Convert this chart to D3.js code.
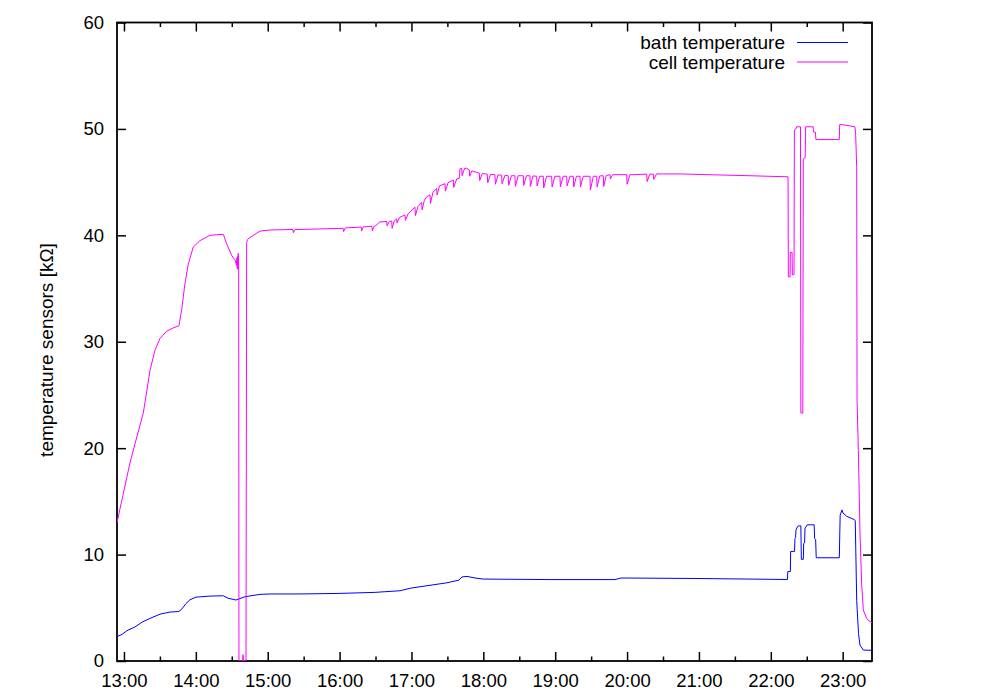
<!DOCTYPE html>
<html>
<head>
<meta charset="utf-8">
<script src="https://cdn.jsdelivr.net/npm/d3@7"></script>
<style>
  body { margin: 0; background: #fff; }
  svg { display: block; font-family: "Liberation Sans", Arial, Helvetica, sans-serif; }
</style>
</head>
<body>
<svg id="chart" width="1000" height="700"></svg>
<script>
// ---- data (time in decimal hours, value in kΩ) ----
const seriesNames = ["bath temperature", "cell temperature"];
const seriesColors = ["#0000ff", "#ff00ff"];
const xDomain = [12.903, 23.408];
const yDomain = [0, 60];
const yTicks = [0, 10, 20, 30, 40, 50, 60];
const hourTicks = [13, 14, 15, 16, 17, 18, 19, 20, 21, 22, 23];
const halfHourTicks = [13.5, 14.5, 15.5, 16.5, 17.5, 18.5, 19.5, 20.5, 21.5, 22.5];
const yLabel = "temperature sensors [kΩ]";

const bathTemp = [
  [12.903, 2.28], [12.972, 2.5], [13.042, 2.85], [13.153, 3.2], [13.264, 3.7],
  [13.362, 4.0], [13.501, 4.4], [13.640, 4.6], [13.765, 4.65], [13.807, 4.9],
  [13.863, 5.4], [13.918, 5.75], [14.002, 6.0], [14.197, 6.1], [14.382, 6.13],
  [14.447, 5.9], [14.558, 5.73], [14.684, 6.04], [14.892, 6.26], [15.031, 6.3],
  [15.449, 6.3], [15.99, 6.35], [16.492, 6.45], [16.84, 6.6], [16.993, 6.85],
  [17.244, 7.1], [17.494, 7.35], [17.661, 7.6], [17.703, 7.9], [17.773, 7.95],
  [17.884, 7.8], [17.995, 7.7], [18.927, 7.65], [19.832, 7.65], [19.915, 7.8],
  [21.014, 7.75], [22.232, 7.66], [22.236, 8.4], [22.272, 8.4], [22.276, 10.3],
  [22.33, 10.3], [22.336, 11.5], [22.345, 11.6], [22.35, 12.3], [22.37, 12.6],
  [22.382, 12.7], [22.418, 12.7], [22.425, 9.55], [22.452, 9.55], [22.458, 11.05],
  [22.47, 11.1], [22.476, 12.5], [22.49, 12.6], [22.507, 12.8], [22.603, 12.8],
  [22.61, 11.5], [22.624, 11.4], [22.632, 9.7], [22.953, 9.7], [22.965, 13.7],
  [22.985, 14.1], [22.99, 14.2], [23.005, 13.9], [23.055, 13.6], [23.157, 13.3],
  [23.175, 13.2], [23.195, 5.7], [23.22, 2.6], [23.241, 1.5], [23.287, 1.03],
  [23.408, 1.0]
];

const cellTemp = [
  [12.903, 13.0], [13.083, 18.6], [13.153, 20.4], [13.269, 23.3], [13.362, 27.3],
  [13.431, 29.2], [13.501, 30.3], [13.594, 31.0], [13.686, 31.3], [13.765, 31.5],
  [13.803, 33.0], [13.849, 35.5], [13.895, 37.3], [13.964, 38.9], [14.057, 39.5],
  [14.197, 40.0], [14.382, 40.1], [14.429, 39.2], [14.499, 38.1], [14.544, 37.7],
  [14.565, 37.2], [14.572, 37.9], [14.576, 36.9], [14.582, 38.0], [14.586, 36.8],
  [14.590, 38.3], [14.596, 37.0], [14.600, 0], [14.650, 0], [14.656, 0.6],
  [14.662, 0], [14.698, 0], [14.707, 39.3], [14.718, 39.6], [14.753, 39.8],
  [14.823, 40.1], [14.892, 40.4], [15.031, 40.5], [15.35, 40.55], [15.356, 40.25],
  [15.38, 40.55], [15.449, 40.55], [15.99, 40.65], [16.05, 40.65], [16.056, 40.35],
  [16.08, 40.7], [16.242, 40.75], [16.30, 40.78], [16.306, 40.4], [16.33, 40.8],
  [16.45, 40.85], [16.456, 40.4], [16.48, 40.85], [16.492, 40.85], [16.56, 41.26],
  [16.655, 41.3], [16.661, 40.9], [16.69, 41.3],
  [16.725, 41.35], [16.731, 40.65], [16.76, 41.35],
  [16.794, 41.55], [16.800, 41.15], [16.83, 41.65],
  [16.87, 41.8],
  [16.910, 41.9], [16.916, 41.4], [16.95, 42.0],
  [16.98, 42.2],
  [17.049, 42.65], [17.055, 41.85], [17.09, 42.7],
  [17.142, 43.1], [17.148, 42.4], [17.18, 43.3],
  [17.21, 43.6],
  [17.258, 43.8], [17.264, 43.0], [17.30, 44.05],
  [17.351, 44.4], [17.357, 43.8], [17.39, 44.65],
  [17.466, 44.85], [17.472, 44.15], [17.51, 44.95],
  [17.582, 45.2], [17.588, 44.5], [17.63, 45.3],
  [17.665, 45.35], [17.675, 46.25],
  [17.699, 46.3], [17.705, 45.6], [17.74, 46.3],
  [17.77, 46.3],
  [17.805, 46.15], [17.811, 45.55], [17.84, 46.05],
  [17.944, 45.85], [17.950, 45.15], [17.985, 45.8],
  [18.055, 45.75], [18.061, 44.95], [18.10, 45.72],
  [18.162, 45.7], [18.168, 44.8], [18.205, 45.68],
  [18.255, 45.65], [18.261, 44.85], [18.30, 45.63],
  [18.347, 45.6], [18.353, 44.7], [18.39, 45.6],
  [18.440, 45.6], [18.446, 44.6], [18.485, 45.6],
  [18.556, 45.6], [18.562, 44.7], [18.60, 45.6],
  [18.649, 45.6], [18.655, 44.6], [18.69, 45.58],
  [18.742, 45.55], [18.748, 44.65], [18.785, 45.55],
  [18.834, 45.55], [18.840, 44.45], [18.88, 45.55],
  [18.951, 45.55], [18.957, 44.55], [18.995, 45.55],
  [19.066, 45.55], [19.072, 44.55], [19.11, 45.55],
  [19.160, 45.55], [19.166, 44.65], [19.205, 45.55],
  [19.252, 45.55], [19.258, 44.55], [19.295, 45.55],
  [19.345, 45.55], [19.351, 44.55], [19.39, 45.55],
  [19.484, 45.55], [19.490, 44.25], [19.53, 45.55],
  [19.577, 45.55], [19.583, 44.55], [19.62, 45.58],
  [19.669, 45.6], [19.675, 44.6], [19.71, 45.62],
  [19.762, 45.7], [19.768, 45.3], [19.80, 45.7],
  [19.995, 45.7], [20.001, 44.8], [20.04, 45.7],
  [20.086, 45.7],
  [20.273, 45.75], [20.279, 45.05], [20.315, 45.75],
  [20.365, 45.75], [20.371, 45.25], [20.41, 45.77],
  [20.504, 45.77], [20.736, 45.77], [21.014, 45.72], [21.71, 45.6],
  [22.240, 45.5], [22.244, 36.1], [22.268, 36.1], [22.272, 38.4], [22.296, 38.4],
  [22.300, 36.3], [22.323, 36.3], [22.328, 49.9], [22.35, 50.0], [22.36, 50.2],
  [22.413, 50.2], [22.418, 23.3], [22.445, 23.3], [22.452, 47.2], [22.478, 47.3],
  [22.485, 50.2], [22.59, 50.2], [22.595, 49.7], [22.62, 49.7], [22.628, 49.0],
  [22.953, 49.0], [22.958, 50.4], [23.0, 50.4], [23.17, 50.2], [23.18, 49.6],
  [23.195, 46.4], [23.20, 24.5], [23.218, 19.8], [23.241, 12.0], [23.264, 7.3],
  [23.287, 4.8], [23.333, 4.0], [23.38, 3.7], [23.408, 3.6]
];

// ---- layout ----
const plot = { left: 117, right: 872, top: 22.5, bottom: 661 };
const svg = d3.select("#chart");

const x = d3.scaleLinear().domain(xDomain).range([plot.left, plot.right]);
const y = d3.scaleLinear().domain(yDomain).range([plot.bottom, plot.top]);

svg.append("defs").append("clipPath").attr("id", "clip")
  .append("rect")
  .attr("x", plot.left).attr("y", plot.top)
  .attr("width", plot.right - plot.left).attr("height", plot.bottom - plot.top);

const tickFont = 18.5;
const textFont = 19;
const hourFmt = h => `${h}:00`;

function styleAxis(g) {
  g.select(".domain").remove();
  g.selectAll(".tick line").attr("stroke", "#000").attr("stroke-width", 1.5);
  g.selectAll(".tick text").attr("fill", "#000").attr("font-size", tickFont)
    .attr("font-family", "Liberation Sans, Arial, sans-serif");
}

// bottom axis (labels)
svg.append("g").attr("transform", `translate(0,${plot.bottom})`)
  .call(d3.axisBottom(x).tickValues(hourTicks).tickFormat(hourFmt).tickSize(-9).tickPadding(13.3))
  .call(styleAxis);
svg.append("g").attr("transform", `translate(0,${plot.bottom})`)
  .call(d3.axisBottom(x).tickValues(halfHourTicks).tickFormat("").tickSize(-4.5))
  .call(styleAxis);
// top mirror
svg.append("g").attr("transform", `translate(0,${plot.top})`)
  .call(d3.axisTop(x).tickValues(hourTicks).tickFormat("").tickSize(-9))
  .call(styleAxis);
svg.append("g").attr("transform", `translate(0,${plot.top})`)
  .call(d3.axisTop(x).tickValues(halfHourTicks).tickFormat("").tickSize(-4.5))
  .call(styleAxis);
// left axis (labels)
svg.append("g").attr("transform", `translate(${plot.left},0)`)
  .call(d3.axisLeft(y).tickValues(yTicks).tickFormat(d3.format("d")).tickSize(-9).tickPadding(13))
  .call(styleAxis);
// right mirror
svg.append("g").attr("transform", `translate(${plot.right},0)`)
  .call(d3.axisRight(y).tickValues(yTicks).tickFormat("").tickSize(-9))
  .call(styleAxis);

// frame
svg.append("rect")
  .attr("x", plot.left).attr("y", plot.top)
  .attr("width", plot.right - plot.left).attr("height", plot.bottom - plot.top)
  .attr("fill", "none").attr("stroke", "#000").attr("stroke-width", 1.8);

// y label
svg.append("text")
  .attr("transform", `translate(53,350) rotate(-90)`)
  .attr("text-anchor", "middle")
  .attr("font-size", textFont)
  .attr("fill", "#000")
  .text(yLabel);

// lines
const line = d3.line().x(d => x(d[0])).y(d => y(d[1]));
const series = [bathTemp, cellTemp];
const lines = svg.append("g").attr("clip-path", "url(#clip)");
series.forEach((s, i) => {
  lines.append("path").datum(s)
    .attr("d", line)
    .attr("fill", "none")
    .attr("stroke", seriesColors[i])
    .attr("stroke-width", 1)
    .attr("stroke-linejoin", "miter");
});

// legend
const legend = svg.append("g");
seriesNames.forEach((name, i) => {
  const ly = 42.5 + i * 19.5;
  legend.append("text")
    .attr("x", 785).attr("y", ly + 6.5)
    .attr("text-anchor", "end")
    .attr("font-size", textFont)
    .attr("fill", "#000")
    .text(name);
  legend.append("line")
    .attr("x1", 797).attr("x2", 848)
    .attr("y1", ly).attr("y2", ly)
    .attr("stroke", seriesColors[i])
    .attr("stroke-width", 1);
});
</script>
</body>
</html>
